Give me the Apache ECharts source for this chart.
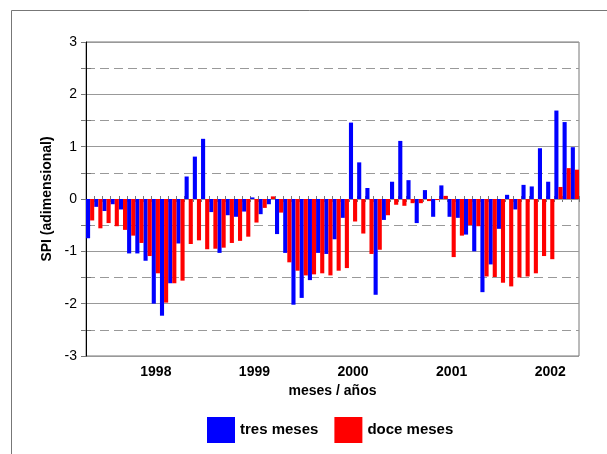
<!DOCTYPE html>
<html>
<head>
<meta charset="utf-8">
<script src="https://cdn.jsdelivr.net/npm/echarts@6/dist/echarts.min.js"></script>
<style>
  html, body { margin: 0; padding: 0; background: #fff; }
  #chart { width: 607px; height: 454px; }
</style>
</head>
<body>
<div id="chart"></div>
<script>
// months from May 1997 to April 2002
const months = [];
for (let i = 0; i < 60; i++) {
  const m = (4 + i) % 12 + 1;
  const y = 1997 + Math.floor((4 + i) / 12);
  months.push(y + '-' + String(m).padStart(2, '0'));
}

const tresMeses = [
  -0.75, -0.15, -0.23, -0.10, -0.20, -1.04, -1.04, -1.18, -2.00, -2.23, -1.61, -0.85,
  0.43, 0.81, 1.15, -0.25, -1.03, -0.31, -0.34, -0.24, 0.03, -0.29, -0.10, -0.67,
  -1.03, -2.02, -1.89, -1.55, -1.03, -1.05, -0.77, -0.36, 1.46, 0.70, 0.21, -1.83,
  -0.40, 0.33, 1.11, 0.36, -0.46, 0.17, -0.34, 0.26, -0.34, -0.36, -0.68, -1.00,
  -1.78, -1.25, -0.57, 0.08, -0.20, 0.27, 0.24, 0.97, 0.33, 1.69, 1.47, 0.99
];

const doceMeses = [
  -0.41, -0.56, -0.46, -0.52, -0.59, -0.70, -0.84, -1.09, -1.42, -1.98, -1.61, -1.56,
  -0.86, -0.79, -0.96, -0.95, -0.93, -0.84, -0.80, -0.72, -0.45, -0.17, 0.05, -0.26,
  -1.21, -1.37, -1.46, -1.44, -1.42, -1.46, -1.37, -1.32, -0.43, -0.66, -1.05, -0.97,
  -0.31, -0.11, -0.13, -0.08, -0.08, -0.04, -0.02, 0.06, -1.11, -0.70, -0.50, -0.52,
  -1.48, -1.49, -1.60, -1.67, -1.50, -1.48, -1.42, -1.09, -1.15, 0.23, 0.59, 0.56
];

const font = '"Liberation Sans", Arial, sans-serif';
const gridBox = { left: 86, right: 28, top: 42, bottom: 98 };

const chart = echarts.init(document.getElementById('chart'));

chart.setOption({
  animation: false,
  textStyle: { fontFamily: font },
  graphic: [{
    type: 'rect',
    shape: { x: 11.5, y: 10.5, width: 700, height: 500 },
    style: { fill: 'none', stroke: '#777', lineWidth: 1 },
    z: -10
  }],
  legend: {
    left: 202,
    top: 412,
    icon: 'rect',
    itemWidth: 28,
    itemHeight: 26,
    itemGap: 16,
    textStyle: { fontFamily: font, fontSize: 15, fontWeight: 'bold', color: '#000' },
    data: ['tres meses', 'doce meses']
  },
  grid: [
    Object.assign({ show: true, borderColor: '#777', borderWidth: 1 }, gridBox),
    Object.assign({ show: false }, gridBox)
  ],
  xAxis: [{
    type: 'category',
    data: months,
    gridIndex: 0,
    name: 'meses / años',
    nameLocation: 'middle',
    nameGap: 27,
    nameTextStyle: { fontFamily: font, fontSize: 14, fontWeight: 'bold', color: '#000' },
    axisLine: { lineStyle: { color: '#000', width: 1 } },
    axisTick: { show: true, interval: 0, length: 3, lineStyle: { color: '#777' } },
    axisLabel: {
      interval: 0,
      margin: 9,
      fontFamily: font,
      fontSize: 14,
      fontWeight: 'bold',
      color: '#000',
      formatter: v => v.endsWith('-01') ? v.slice(0, 4) : ''
    },
    splitLine: { show: false }
  }, {
    type: 'category',
    data: months,
    gridIndex: 1,
    axisLine: { show: false },
    axisTick: { show: true, inside: true, interval: 0, length: 3, lineStyle: { color: '#777' } },
    axisLabel: { show: false },
    splitLine: { show: false }
  }],
  yAxis: [{
    type: 'value',
    gridIndex: 0,
    min: -3,
    max: 3,
    interval: 1,
    name: 'SPI (adimensional)',
    nameLocation: 'middle',
    nameGap: 28,
    nameTextStyle: { fontFamily: font, fontSize: 14, fontWeight: 'bold', color: '#000' },
    axisLine: { show: true, lineStyle: { color: '#000', width: 1 } },
    axisTick: { show: true, length: 5, lineStyle: { color: '#777' } },
    minorTick: { show: true, splitNumber: 2, length: 5, lineStyle: { color: '#777' } },
    axisLabel: { margin: 9, fontFamily: font, fontSize: 14, color: '#000' },
    splitLine: { show: true, lineStyle: { color: '#999', width: 1 } },
    z: 1
  }, {
    type: 'value',
    gridIndex: 1,
    min: -3,
    max: 3,
    interval: 0.5,
    axisLine: { show: false },
    axisTick: { show: true, inside: true, length: 5, lineStyle: { color: '#777' } },
    axisLabel: { show: false },
    splitLine: { show: true, lineStyle: { color: '#999', type: [9, 5], width: 1 } },
    z: 0
  }],
  series: [{
    name: 'tres meses',
    type: 'bar',
    xAxisIndex: 0,
    yAxisIndex: 0,
    data: tresMeses,
    barGap: 0,
    barCategoryGap: 0,
    itemStyle: { color: '#0000ff' },
    z: 3
  }, {
    name: 'doce meses',
    type: 'bar',
    xAxisIndex: 0,
    yAxisIndex: 0,
    data: doceMeses,
    barGap: 0,
    barCategoryGap: 0,
    itemStyle: { color: '#ff0000' },
    z: 3
  }]
});
</script>
</body>
</html>
